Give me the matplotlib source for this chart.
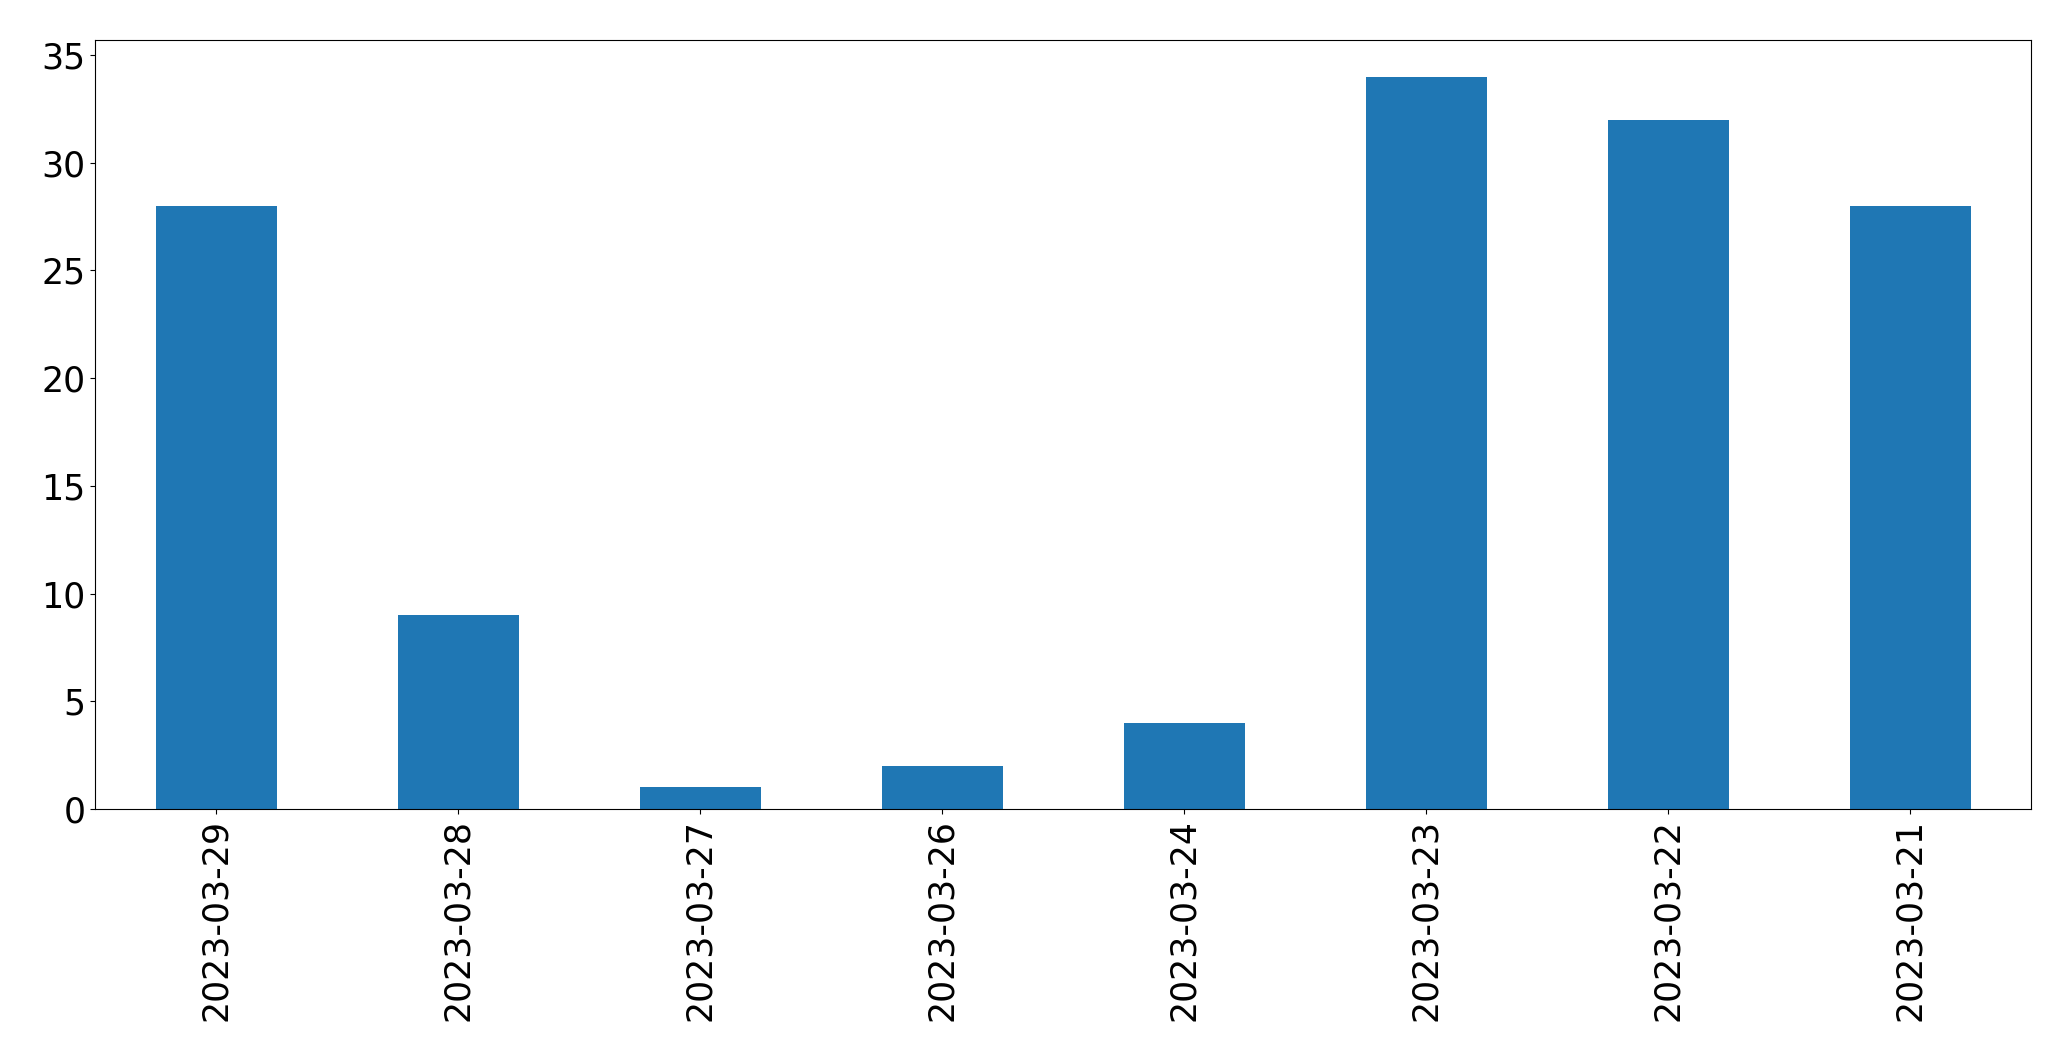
import matplotlib
matplotlib.use("Agg")
import matplotlib.pyplot as plt
import numpy as np

dates = ["2023-03-29", "2023-03-28", "2023-03-27", "2023-03-26",
         "2023-03-24", "2023-03-23", "2023-03-22", "2023-03-21"]
counts = [28, 9, 1, 2, 4, 34, 32, 28]

fig, ax = plt.subplots(figsize=(20.71, 10.61), dpi=100)
fig.subplots_adjust(left=95 / 2071, right=2031 / 2071, top=1 - 40 / 1061, bottom=1 - 809 / 1061)

x = np.arange(len(dates))
ax.bar(x, counts, width=0.5, color="#1f77b4")
ax.set_xlim(-0.5, len(dates) - 0.5)
ax.set_xticks(x)
ax.set_xticklabels(dates, rotation=90)
ax.tick_params(axis="both", labelsize=25)

fig.savefig("out.png", dpi=100)
